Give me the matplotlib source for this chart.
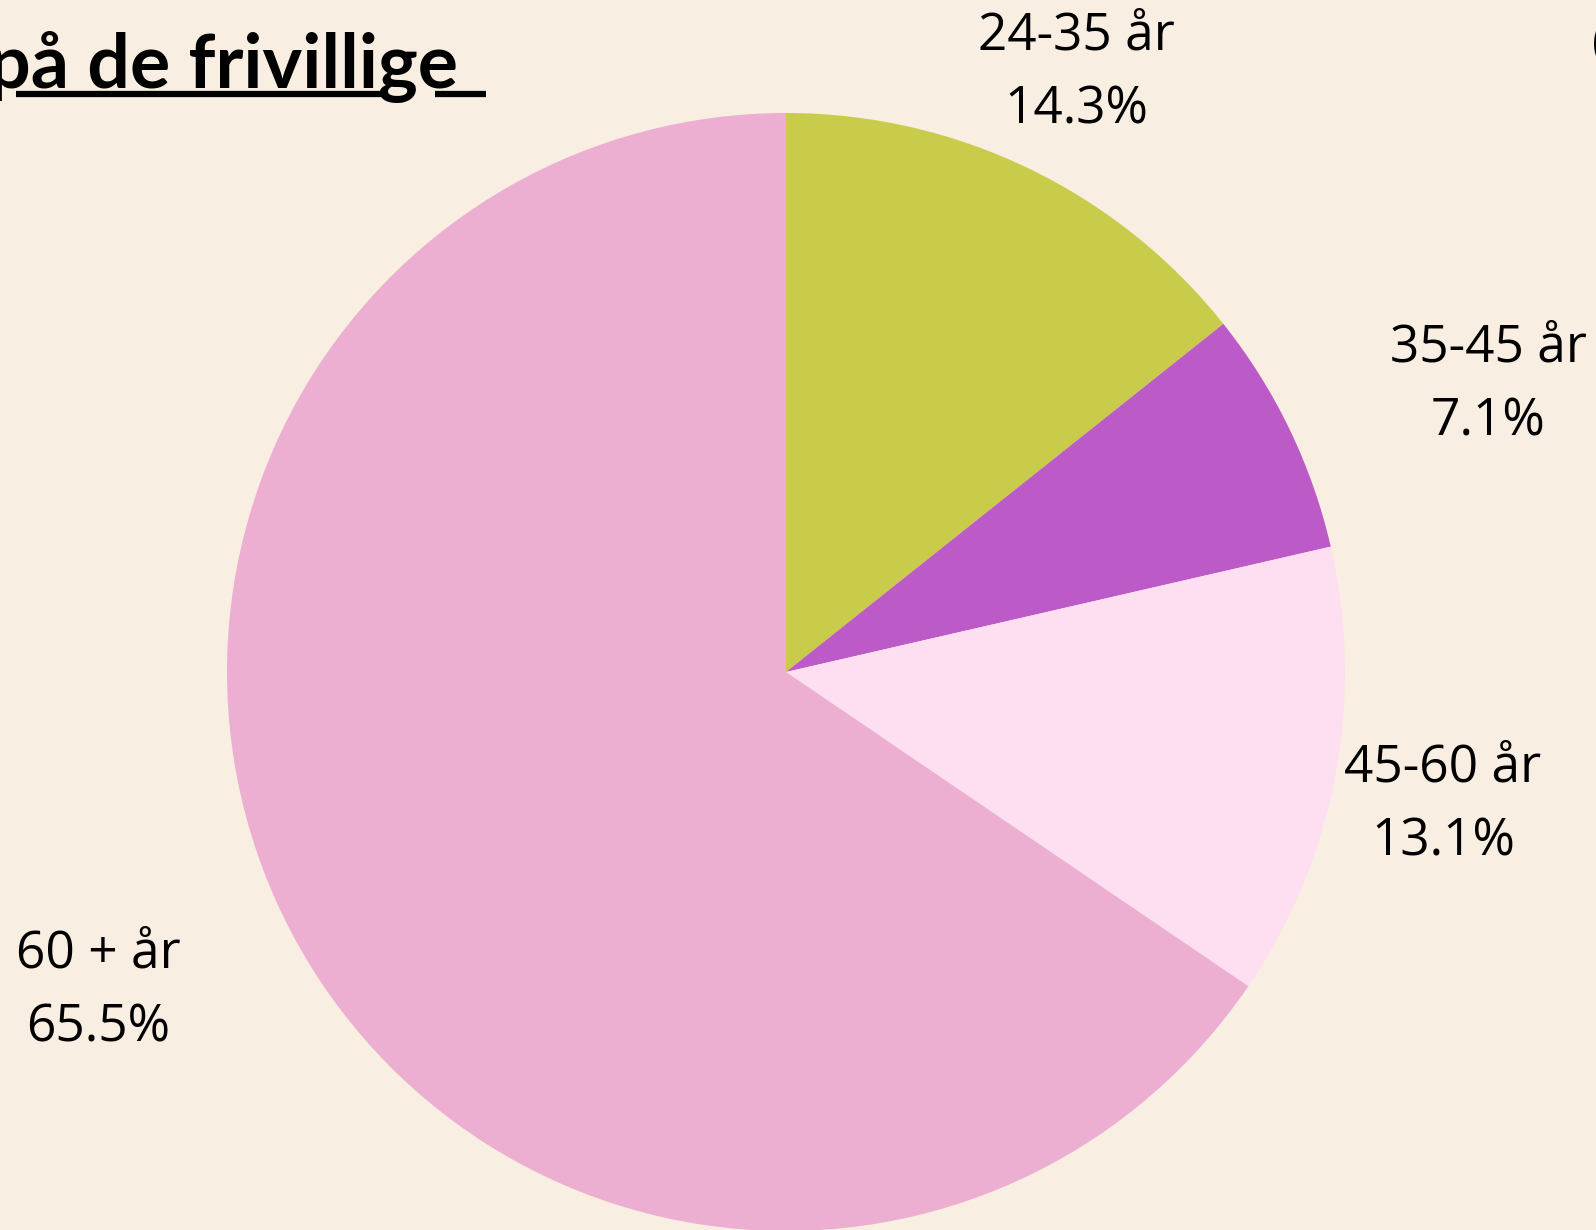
import matplotlib.pyplot as plt
from matplotlib.lines import Line2D

# data
groups = ["24-35 år", "35-45 år", "45-60 år", "60 + år"]
shares = [14.3, 7.1, 13.1, 65.5]
slice_colors = ["#c9cb4a", "#bc5ac7", "#fddff1", "#edafd1"]
title = "på de frivillige"

# layout (pixels, origin top-left)
W, H = 1596, 1230
center_px = (786, 672)
radius_px = 559
label_pos = [(1076, 73), (1488, 385), (1443, 805), (98, 991)]
bg = "#f8eee2"

fig = plt.figure(figsize=(W / 100, H / 100), dpi=100, facecolor=bg)
ax = fig.add_axes([0, 0, 1, 1])
ax.set_facecolor(bg)

ax.pie(shares, colors=slice_colors, startangle=90, counterclock=False,
       center=(center_px[0], H - center_px[1]), radius=radius_px,
       wedgeprops=dict(linewidth=0), frame=True)
ax.set_xlim(0, W)
ax.set_ylim(0, H)
ax.set_aspect("equal")
ax.axis("off")

for g, s, (x, y) in zip(groups, shares, label_pos):
    ax.text(x, H - y, f"{g}\n{s:.1f}%", ha="center", va="center",
            fontsize=37, family="Open Sans", color="black", linespacing=1.6)

# cut-off title, fitted so it ends where the reference does
t = ax.text(-12, H - 88, title, ha="left", va="baseline", fontsize=60,
            family="Lato", fontweight="bold", color="black")
fig.canvas.draw()
w = t.get_window_extent().width
t.set_fontsize(60 * 470 / w)
fig.canvas.draw()
x1 = t.get_window_extent().x1
ax.add_line(Line2D([16, 381], [H - 94, H - 94], color="black", lw=4.5,
                   solid_capstyle="butt"))
ax.add_line(Line2D([435, x1 + 28], [H - 94, H - 94], color="black", lw=4.5,
                   solid_capstyle="butt"))

# partial glyph at right edge
ax.text(1592, H - 44, "(", ha="left", va="center", fontsize=37,
        family="Open Sans", color="black")

fig.savefig("out.png", dpi=100, facecolor=bg)
